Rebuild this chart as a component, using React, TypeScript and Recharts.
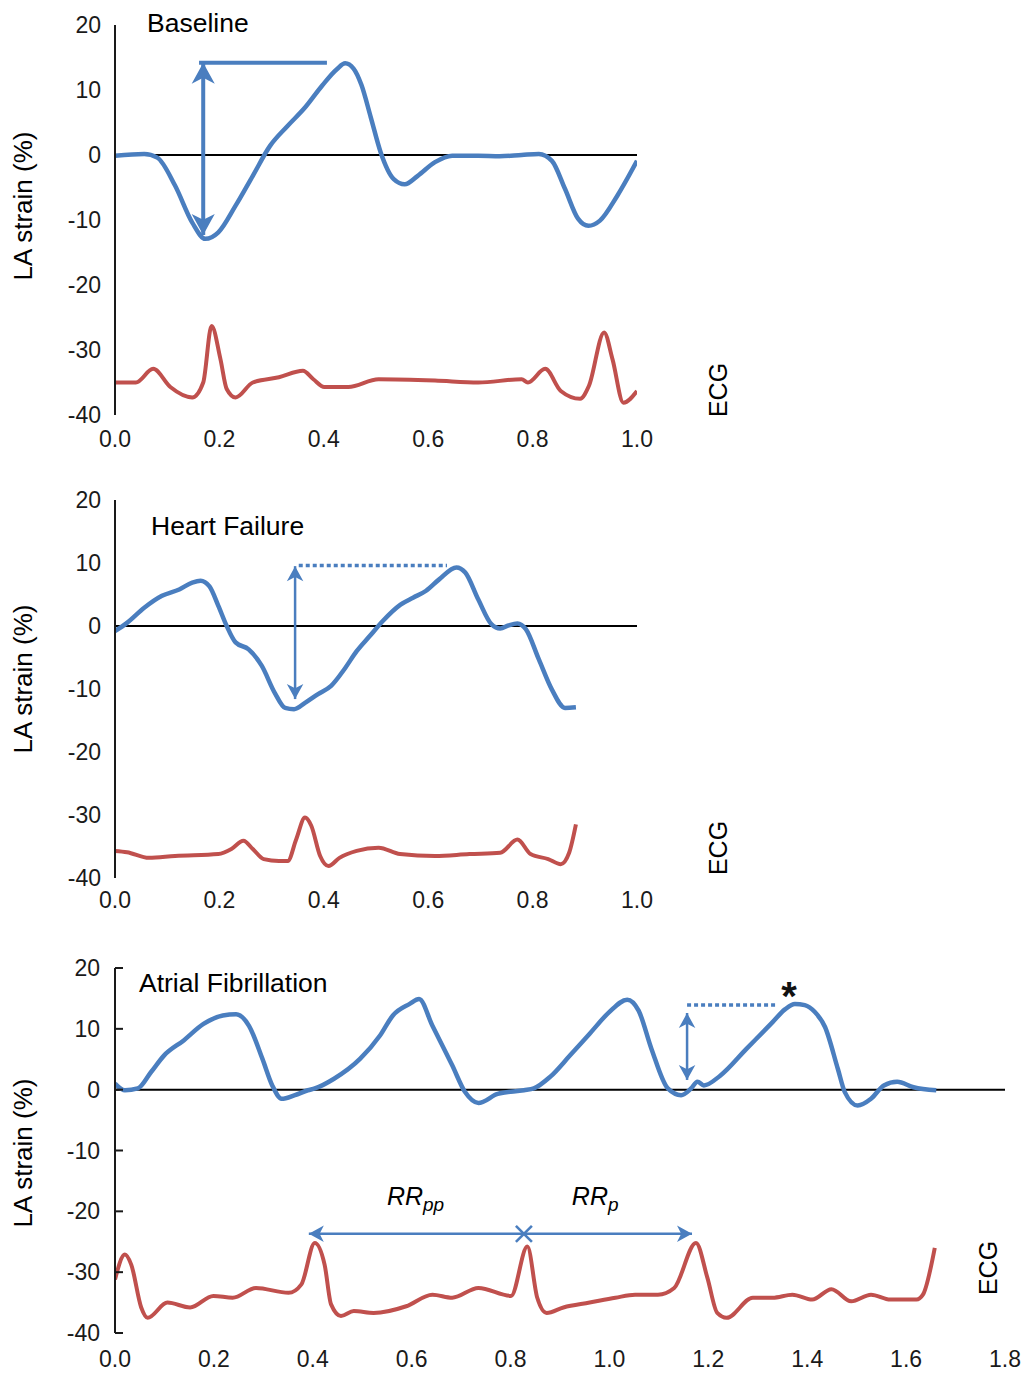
import React from 'react';
import { LineChart, Line, XAxis, YAxis, ReferenceLine, ReferenceDot } from 'recharts';

const BLUE = '#4a7ebf';
const RED = '#c0504d';
const INK = '#1a1a1a';
const FONT = '"Liberation Sans", Arial, Helvetica, sans-serif';

const strainTicks = [-40, -30, -20, -10, 0, 10, 20];
const shortTimeTicks = [0, 0.2, 0.4, 0.6, 0.8, 1.0];
const longTimeTicks = [0, 0.2, 0.4, 0.6, 0.8, 1.0, 1.2, 1.4, 1.6, 1.8];

// Baseline
const baseStrainT = [0, 0.056, 0.081, 0.115, 0.148, 0.173, 0.198, 0.231, 0.264, 0.297, 0.331, 0.364, 0.397, 0.425, 0.441, 0.457, 0.472, 0.49, 0.509, 0.534, 0.555, 0.58, 0.613, 0.646, 0.696, 0.737, 0.779, 0.812, 0.837, 0.862, 0.887, 0.907, 0.929, 0.962, 1.0];
const baseStrain = [-0.1, 0.15, -0.4, -4.7, -10.4, -12.9, -11.9, -7.8, -3.2, 1.4, 4.5, 7.3, 10.7, 13.2, 14.1, 13.3, 10.8, 5.8, 0.4, -3.7, -4.5, -3.2, -1.1, -0.1, -0.1, -0.2, 0, 0.15, -0.9, -5.2, -9.8, -10.9, -10.1, -6.3, -0.9];
const baseEcgT = [0, 0.04, 0.073, 0.106, 0.148, 0.169, 0.185, 0.202, 0.214, 0.231, 0.264, 0.314, 0.36, 0.38, 0.401, 0.447, 0.505, 0.613, 0.696, 0.779, 0.791, 0.824, 0.854, 0.891, 0.908, 0.937, 0.953, 0.974, 1.0];
const baseEcg = [-35, -35, -32.9, -35.7, -37.3, -35, -26.3, -31.4, -36, -37.3, -35, -34.2, -33.2, -34.5, -35.7, -35.7, -34.5, -34.7, -35, -34.5, -35, -32.9, -36.3, -37.5, -35.5, -27.3, -31.4, -38.1, -36.3];
const baseArrowT = 0.169;
const baseArrowY = [14.2, -12.3];
const basePeakLineT = [0.161, 0.406];
const basePeakY = 14.2;

// Heart failure
const hfStrainT = [0, 0.023, 0.056, 0.09, 0.123, 0.148, 0.164, 0.181, 0.198, 0.214, 0.231, 0.256, 0.281, 0.306, 0.326, 0.343, 0.364, 0.389, 0.414, 0.439, 0.463, 0.488, 0.513, 0.547, 0.571, 0.596, 0.621, 0.654, 0.671, 0.696, 0.721, 0.738, 0.754, 0.771, 0.787, 0.812, 0.837, 0.862, 0.883];
const hfStrain = [-0.8, 0.5, 2.9, 4.8, 5.8, 6.9, 7.2, 6.3, 3.2, 0, -2.6, -3.7, -6.3, -10.6, -13, -13.2, -12.2, -10.8, -9.5, -6.9, -4, -1.6, 0.8, 3.4, 4.5, 5.6, 7.4, 9.3, 8.5, 4.2, 0.3, -0.4, 0.1, 0.4, -0.5, -5.3, -10.1, -13, -12.9];
const hfEcgT = [0, 0.023, 0.065, 0.115, 0.198, 0.223, 0.246, 0.264, 0.285, 0.314, 0.331, 0.347, 0.364, 0.376, 0.393, 0.409, 0.43, 0.463, 0.505, 0.546, 0.613, 0.679, 0.738, 0.771, 0.796, 0.83, 0.854, 0.87, 0.883];
const hfEcg = [-35.7, -35.9, -36.8, -36.5, -36.2, -35.4, -34.1, -35.4, -37, -37.3, -37.3, -33.9, -30.4, -31.7, -36.5, -38.1, -36.8, -35.7, -35.2, -36.2, -36.5, -36.2, -36, -33.9, -36.2, -37, -37.8, -36, -31.5];
const hfArrowT = 0.345;
const hfArrowY = [9.5, -11.6];
const hfPeakLineT = [0.352, 0.636];
const hfPeakY = 9.6;

// Atrial fibrillation
const afStrainT = [0, 0.02, 0.046, 0.073, 0.099, 0.139, 0.179, 0.218, 0.245, 0.271, 0.298, 0.318, 0.337, 0.364, 0.39, 0.404, 0.443, 0.496, 0.536, 0.562, 0.596, 0.615, 0.642, 0.682, 0.708, 0.735, 0.774, 0.827, 0.847, 0.88, 0.92, 0.96, 0.999, 1.036, 1.059, 1.085, 1.118, 1.145, 1.165, 1.178, 1.191, 1.224, 1.277, 1.33, 1.355, 1.375, 1.395, 1.415, 1.436, 1.462, 1.476, 1.502, 1.529, 1.555, 1.582, 1.615, 1.661];
const afStrain = [1.0, -0.1, 0.2, 2.9, 5.6, 8.1, 10.8, 12.2, 12.4, 10.5, 5.1, 0.7, -1.5, -0.9, -0.1, 0.2, 1.8, 5.1, 8.9, 12.2, 14.1, 14.9, 10.5, 4, -0.4, -2.2, -0.7, -0.1, 0.2, 2.1, 5.6, 9.2, 12.7, 14.8, 13, 6.7, 0.2, -0.9, 0.2, 1.3, 0.7, 2.3, 6.7, 11.1, 13.2, 14.1, 13.9, 12.8, 10.3, 3.4, -0.4, -2.6, -1.5, 0.7, 1.3, 0.4, -0.1];
const afEcgT = [0, 0.02, 0.033, 0.053, 0.066, 0.106, 0.152, 0.199, 0.238, 0.285, 0.351, 0.377, 0.404, 0.424, 0.437, 0.457, 0.483, 0.523, 0.589, 0.642, 0.682, 0.735, 0.801, 0.834, 0.854, 0.873, 0.907, 0.96, 1.012, 1.052, 1.098, 1.131, 1.175, 1.198, 1.218, 1.237, 1.29, 1.33, 1.37, 1.41, 1.449, 1.489, 1.529, 1.568, 1.621, 1.634, 1.658];
const afEcg = [-31.2, -27.1, -28.8, -35.8, -37.5, -35, -35.8, -33.9, -34.2, -32.6, -33.4, -32, -25.2, -28.8, -35.3, -37.2, -36.4, -36.7, -35.6, -33.7, -34.2, -32.6, -33.9, -25.8, -34.2, -36.7, -35.8, -35, -34.2, -33.7, -33.7, -32.6, -25.2, -30.9, -36.7, -37.5, -34.2, -34.2, -33.7, -34.5, -32.8, -34.8, -33.7, -34.5, -34.5, -33.7, -26];
const afArrowT = 1.157;
const afArrowY = [12.6, 1.6];
const afPeakLineT = [1.157, 1.339];
const afPeakY = 13.9;
const afStar = { x: 1.363, y: 15.8 };
const rrBeats = [0.392, 0.827, 1.167];
const rrY = -23.7;
const rrLabels = [
  { x: 0.55, y: -18.9, sub: 'pp' },
  { x: 0.924, y: -18.9, sub: 'p' },
];

const zip = (t: number[], v: number[]) => t.map((x, i) => ({ x, y: v[i] }));

type Dir = 'up' | 'down' | 'left' | 'right';
const ROT: Record<Dir, number> = { up: 0, right: 90, down: 180, left: 270 };

function ArrowHead({ cx, cy, dir, size }: { cx: number; cy: number; dir: Dir; size: number }) {
  const w = size * 0.55;
  const notch = size * 0.72;
  return (
    <path
      transform={`translate(${cx},${cy}) rotate(${ROT[dir]})`}
      d={`M0,0 L${w},${size} L0,${notch} L${-w},${size} Z`}
      fill={BLUE}
    />
  );
}

const arrowDot = (size: number) => (p: any) =>
  p.payload && p.payload.dir ? (
    <ArrowHead key={`a${p.index}`} cx={p.cx} cy={p.cy} dir={p.payload.dir} size={size} />
  ) : (
    <g key={`a${p.index}`} />
  );

const tickStyle = { fontSize: 23, fill: INK, fontFamily: FONT };

function Panel({
  width,
  height,
  margin,
  xMax,
  xTicks,
  strain,
  ecg,
  yTickLine,
  xTickMargin,
  children,
}: any) {
  return (
    <LineChart width={width} height={height} margin={margin}>
      <XAxis
        type="number"
        dataKey="x"
        domain={[0, xMax]}
        ticks={xTicks}
        tickFormatter={(v: number) => v.toFixed(1)}
        axisLine={false}
        tickLine={false}
        tickSize={6}
        tickMargin={xTickMargin}
        height={30}
        tick={tickStyle}
        allowDataOverflow
      />
      <YAxis
        type="number"
        domain={[-40, 20]}
        ticks={strainTicks}
        width={115}
        axisLine={{ stroke: INK, strokeWidth: 2 }}
        tickLine={yTickLine ? { stroke: INK, strokeWidth: 2 } : false}
        tickSize={yTickLine ? -8 : 6}
        tickMargin={yTickLine ? 23 : 8}
        tick={tickStyle}
        allowDataOverflow
      />
      <ReferenceLine y={0} stroke="#000" strokeWidth={2} />
      <Line data={ecg} dataKey="y" type="monotone" stroke={RED} strokeWidth={4} dot={false} activeDot={false} isAnimationActive={false} />
      <Line data={strain} dataKey="y" type="monotone" stroke={BLUE} strokeWidth={4.5} dot={false} activeDot={false} isAnimationActive={false} />
      {children}
    </LineChart>
  );
}

function amplitudeArrow(t: number, ys: number[]) {
  return [
    { x: t, y: ys[0], dir: 'up' },
    { x: t, y: ys[1], dir: 'down' },
  ];
}

function PageText() {
  const title = { fontSize: 26.5, fontFamily: FONT, fill: '#000' };
  const yLab = { fontSize: 26, fontFamily: FONT, fill: '#000' };
  const ecgLab = { fontSize: 25, fontFamily: FONT, fill: '#000' };
  return (
    <svg width={1021} height={1373} style={{ position: 'absolute', left: 0, top: 0, pointerEvents: 'none' }}>
      <text x={147} y={32} style={title}>Baseline</text>
      <text x={151} y={535} style={title}>Heart Failure</text>
      <text x={139} y={992} style={title}>Atrial Fibrillation</text>
      {[206, 679, 1153].map((cy) => (
        <text key={cy} transform={`translate(32,${cy}) rotate(-90)`} textAnchor="middle" style={yLab}>LA strain (%)</text>
      ))}
      {[
        [727, 390],
        [727, 848],
        [997, 1268],
      ].map(([cx, cy]) => (
        <text key={cy} transform={`translate(${cx},${cy}) rotate(-90)`} textAnchor="middle" style={ecgLab}>ECG</text>
      ))}
    </svg>
  );
}

export default function App() {
  const baseArrow = amplitudeArrow(baseArrowT, baseArrowY);
  const hfArrow = amplitudeArrow(hfArrowT, hfArrowY);
  const afArrow = amplitudeArrow(afArrowT, afArrowY);
  const rrLeft = [
    { x: rrBeats[0], y: rrY, dir: 'left' },
    { x: rrBeats[1], y: rrY },
  ];
  const rrRight = [
    { x: rrBeats[1], y: rrY },
    { x: rrBeats[2], y: rrY, dir: 'right' },
  ];

  return (
    <div style={{ position: 'absolute', left: 0, top: 0, width: 1021, height: 1373, background: '#fff' }}>
      <div style={{ position: 'absolute', left: 0, top: 0 }}>
        <Panel
          width={700}
          height={470}
          margin={{ top: 25, right: 63, bottom: 25, left: 0 }}
          xMax={1}
          xTicks={shortTimeTicks}
          strain={zip(baseStrainT, baseStrain)}
          ecg={zip(baseEcgT, baseEcg)}
          xTickMargin={10}
        >
          <Line data={basePeakLineT.map((x) => ({ x, y: basePeakY }))} dataKey="y" stroke={BLUE} strokeWidth={4} dot={false} activeDot={false} isAnimationActive={false} />
          <Line data={baseArrow} dataKey="y" stroke={BLUE} strokeWidth={4} dot={arrowDot(21)} activeDot={false} isAnimationActive={false} />
        </Panel>
      </div>
      <div style={{ position: 'absolute', left: 0, top: 470 }}>
        <Panel
          width={700}
          height={470}
          margin={{ top: 30, right: 63, bottom: 32, left: 0 }}
          xMax={1}
          xTicks={shortTimeTicks}
          strain={zip(hfStrainT, hfStrain)}
          ecg={zip(hfEcgT, hfEcg)}
          xTickMargin={8}
        >
          <Line data={hfPeakLineT.map((x) => ({ x, y: hfPeakY }))} dataKey="y" stroke={BLUE} strokeWidth={3.5} strokeDasharray="4 3" dot={false} activeDot={false} isAnimationActive={false} />
          <Line data={hfArrow} dataKey="y" stroke={BLUE} strokeWidth={2.5} dot={arrowDot(15)} activeDot={false} isAnimationActive={false} />
        </Panel>
      </div>
      <div style={{ position: 'absolute', left: 0, top: 940 }}>
        <Panel
          width={1021}
          height={433}
          margin={{ top: 28, right: 16, bottom: 10, left: 0 }}
          xMax={1.8}
          xTicks={longTimeTicks}
          strain={zip(afStrainT, afStrain)}
          ecg={zip(afEcgT, afEcg)}
          yTickLine
          xTickMargin={12}
        >
          <Line data={afPeakLineT.map((x) => ({ x, y: afPeakY }))} dataKey="y" stroke={BLUE} strokeWidth={3.5} strokeDasharray="4 3" dot={false} activeDot={false} isAnimationActive={false} />
          <Line data={afArrow} dataKey="y" stroke={BLUE} strokeWidth={2.5} dot={arrowDot(15)} activeDot={false} isAnimationActive={false} />
          <Line data={rrLeft} dataKey="y" stroke={BLUE} strokeWidth={2.5} dot={arrowDot(15)} activeDot={false} isAnimationActive={false} />
          <Line data={rrRight} dataKey="y" stroke={BLUE} strokeWidth={2.5} dot={arrowDot(15)} activeDot={false} isAnimationActive={false} />
          <ReferenceDot
            x={rrBeats[1]}
            y={rrY}
            r={0}
            shape={(p: any) => (
              <g stroke={BLUE} strokeWidth={2.5}>
                <line x1={p.cx - 8} y1={p.cy - 8} x2={p.cx + 8} y2={p.cy + 8} />
                <line x1={p.cx - 8} y1={p.cy + 8} x2={p.cx + 8} y2={p.cy - 8} />
              </g>
            )}
          />
          {rrLabels.map((l) => (
            <ReferenceDot
              key={l.sub}
              x={l.x}
              y={l.y}
              r={0}
              shape={(p: any) => (
                <text x={p.cx} y={p.cy} fontFamily={FONT} fontStyle="italic" fontSize={25} fill="#000">
                  RR
                  <tspan dy={6} fontSize={19}>{l.sub}</tspan>
                </text>
              )}
            />
          ))}
          <ReferenceDot
            x={afStar.x}
            y={afStar.y}
            r={0}
            shape={(p: any) => (
              <text x={p.cx} y={p.cy + 16} textAnchor="middle" fontFamily={FONT} fontWeight="bold" fontSize={40} fill="#111">
                *
              </text>
            )}
          />
        </Panel>
      </div>
      <PageText />
    </div>
  );
}
